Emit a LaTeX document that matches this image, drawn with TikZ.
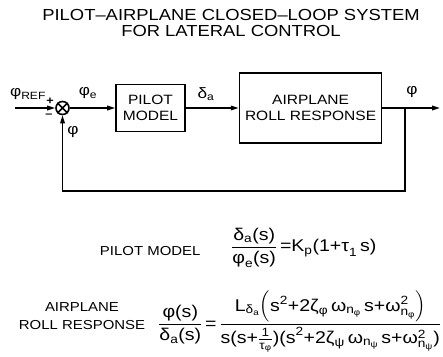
\documentclass[tikz,border=0pt]{standalone}
\usepackage{amsmath}
\usepackage{fontspec}
\setmainfont{Liberation Sans}[FakeStretch=1.15]
\usetikzlibrary{positioning,arrows.meta,calc}

% letters, digits and greek all taken from the text font
\newcommand{\tx}[1]{\text{#1}}

\begin{document}
\begin{tikzpicture}[
  x=1pt, y=-1pt,
  font=\fontsize{13.5}{16}\selectfont,
  block/.style={draw, line width=1.6pt, align=center, inner sep=2pt},
  sum/.style={draw, line width=1.6pt, circle, minimum size=13pt, inner sep=0pt},
  wire/.style={line width=1.6pt},
  arrow/.style={wire, -{Triangle[length=8pt,width=4.5pt]}},
  sig/.style={font=\fontsize{15}{15}\selectfont, inner sep=0pt},
  sign/.style={font=\fontsize{11}{11}\selectfont\bfseries, inner sep=0pt},
  eqlabel/.style={font=\fontsize{13}{18}\selectfont, align=center},
  eq/.style={font=\fontsize{17}{19}\selectfont, inner sep=0pt},
]
\useasboundingbox (0,0) rectangle (443,356);

% Title.
\node[font=\fontsize{16}{16}\selectfont, align=center] (title) at (231,23)
  {PILOT--AIRPLANE CLOSED--LOOP SYSTEM\\FOR LATERAL CONTROL};

% The loop: summing point, pilot, airplane.
\coordinate (in) at (15,108);
\node[sum] (sum) at (62.5,108) {};
\node[block, minimum width=69pt, minimum height=47pt] (pilot) at (150.5,108) {PILOT\\MODEL};
\node[block, minimum width=142pt, minimum height=70pt] (plane) [right=53pt of pilot] {AIRPLANE\\ROLL RESPONSE};
\coordinate (branch) at (405,108);
\coordinate (out) at (440,108);
\coordinate (back) at (405,191);

\draw[wire] (sum.45) -- (sum.225) (sum.135) -- (sum.315);
\draw[arrow] (in) -- (sum);
\draw[arrow] (sum) -- (pilot);
\draw[arrow] (pilot) -- (plane);
\draw[arrow] (plane) -- (out);
\draw[arrow] (branch) -- (back) -| (sum);

% Signal names.
\node[sig] (ref) at (28,94) {$\tx{φ}_\tx{REF}$};
\node[sign] (plus) at (50,101) {+};
\node[sign] (minus) at (49,116) {--};
\node[sig] (err) at (88,93) {$\tx{φ}_\tx{e}$};
\node[sig] (ail) at (206,94) {$\tx{δ}_\tx{a}$};
\node[sig] (roll) at (412,92) {φ};
\node[sig] (fb) at (73,132) {φ};

% Transfer functions below.
\node[eqlabel, anchor=east] (pmlab) at (204,251) {PILOT MODEL};
\node[eq, anchor=west] (pmeq) at (231,248)
  {$\dfrac{\tx{δ}_\tx{a}\tx{(s)}}{\tx{φ}_\tx{e}\tx{(s)}}\tx{\,=K}_\tx{p}\tx{(1+τ}_\tx{1}\tx{\,s)}$};
\node[eqlabel] (rrlab) at (82,316) {AIRPLANE\\ROLL RESPONSE};
\node[eq, anchor=west] (rreq) at (158,322)
  {$\dfrac{\tx{φ(s)}}{\tx{δ}_\tx{a}\tx{(s)}}\tx{\,=\,}\dfrac{\tx{L}_{\tx{δ}_\tx{a}}\Bigl(\tx{s}^\tx{2}\tx{+2ζ}_\tx{φ}\,\tx{ω}_{\tx{n}_\tx{φ}}\tx{\,s+ω}^\tx{2}_{\tx{n}_\tx{φ}}\Bigr)}{\tx{s(s+}\frac{\tx{1}}{\tx{τ}_\tx{φ}}\tx{)(s}^\tx{2}\tx{+2ζ}_\tx{ψ}\,\tx{ω}_{\tx{n}_\tx{ψ}}\tx{\,s+ω}^\tx{2}_{\tx{n}_\tx{ψ}}\tx{)}}$};

\end{tikzpicture}
\end{document}
